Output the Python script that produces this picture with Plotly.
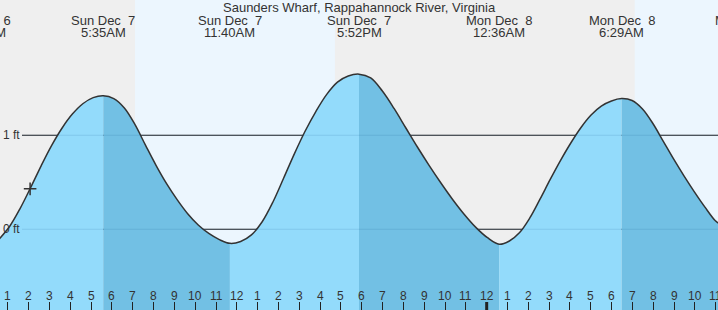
import plotly.graph_objects as go

# ---------------- data (hours from midnight Sun Dec 7, heights in ft) ----------------
tide_hours = [0.60, 1.10, 1.60, 2.10, 2.60, 3.10, 3.60, 4.10, 4.60, 5.10, 5.583,
              6.090, 6.597, 7.104, 7.611, 8.118, 8.625, 9.132, 9.639, 10.146, 10.653, 11.160, 11.667,
              12.183, 12.700, 13.217, 13.733, 14.250, 14.767, 15.283, 15.800, 16.317, 16.833, 17.350, 17.867,
              18.428, 18.989, 19.550, 20.111, 20.672, 21.233, 21.794, 22.355, 22.917, 23.478, 24.039, 24.600,
              25.090, 25.581, 26.071, 26.561, 27.052, 27.542, 28.032, 28.522, 29.013, 29.503, 29.993, 30.483,
              30.983, 31.483, 31.983, 32.483, 32.983, 33.483, 33.983, 34.483, 34.983, 35.200]
tide_ft = [-0.10, 0.035, 0.225, 0.445, 0.675, 0.89, 1.075, 1.225, 1.335, 1.40, 1.42,
           1.39, 1.29, 1.115, 0.895, 0.68, 0.485, 0.315, 0.165, 0.045, -0.045, -0.11, -0.15,
           -0.13, -0.06, 0.08, 0.29, 0.545, 0.805, 1.045, 1.255, 1.435, 1.565, 1.63, 1.65,
           1.61, 1.47, 1.285, 1.08, 0.875, 0.68, 0.495, 0.32, 0.16, 0.02, -0.09, -0.16,
           -0.125, -0.035, 0.12, 0.32, 0.53, 0.73, 0.915, 1.08, 1.215, 1.31, 1.365, 1.39,
           1.37, 1.28, 1.125, 0.935, 0.745, 0.565, 0.395, 0.235, 0.09, 0.055]

# tide extremes: time (hours), day label, time label, type
extreme_hours = [-0.32, 5.583, 11.667, 17.867, 24.60, 30.483, 36.55]
extreme_days = ["Sat Dec\u00a0\u00a06", "Sun Dec\u00a0\u00a07", "Sun Dec\u00a0\u00a07", "Sun Dec\u00a0\u00a07",
                "Mon Dec\u00a0\u00a08", "Mon Dec\u00a0\u00a08", "Mon Dec\u00a0\u00a08"]
extreme_times = ["11:41PM", "5:35AM", "11:40AM", "5:52PM", "12:36AM", "6:29AM", "12:33PM"]
extreme_kind = ["low", "high", "low", "high", "low", "high", "low"]

# daylight periods (hours): sunrise / sunset
day_start = [7.11, 31.11]
day_end = [16.71, 40.0]

# current time marker
now_hour = 2.07
now_ft = 0.43

hour_ticks = list(range(1, 36))
hour_labels = [str(h % 12 if h % 12 else 12) for h in hour_ticks]
midnight_hours = [24]

level_lines = [0, 1]
level_labels = ["0 ft", "1 ft"]

title = "Saunders Wharf, Rappahannock River, Virginia"

# ---------------- layout constants ----------------
W, H = 718, 310
XMIN, XMAX = 0.624, 35.11
YMIN, YMAX = -0.859, 2.439
NIGHT = "#efefef"
DAY = "#ecf6fe"
RISE = "#93dbfb"
FALL = "#72c0e4"
TXT = "#333333"
FONT = "Liberation Sans, Arial, sans-serif"


def px_x(h):
    return (h - XMIN) / (XMAX - XMIN)


def py(ypx):
    return 1 - ypx / H


fig = go.Figure()

# fill segments split at extremes (rising = light, falling = dark)
inner = [e for e in extreme_hours if XMIN < e < XMAX]
bounds = [tide_hours[0]] + inner + [tide_hours[-1]]
for i in range(len(bounds) - 1):
    a, b = bounds[i], bounds[i + 1]
    xs = [h for h in tide_hours if a - 1e-9 <= h <= b + 1e-9]
    ys = [tide_ft[tide_hours.index(h)] for h in xs]
    color = RISE if ys[-1] > ys[0] else FALL
    fig.add_trace(go.Scatter(x=[xs[0], xs[-1]], y=[YMIN - 0.05, YMIN - 0.05], mode="lines",
                             line=dict(width=0), hoverinfo="skip", showlegend=False))
    fig.add_trace(go.Scatter(x=xs, y=ys, mode="lines", line=dict(width=0, shape="spline"),
                             fill="tonexty", fillcolor=color, hoverinfo="skip", showlegend=False))

# curve
fig.add_trace(go.Scatter(x=tide_hours, y=tide_ft, mode="lines",
                         line=dict(color="#333333", width=1.5, shape="spline"),
                         hoverinfo="skip", showlegend=False))

# now marker
fig.add_trace(go.Scatter(x=[now_hour], y=[now_ft], mode="markers",
                         marker=dict(symbol="cross-thin", size=9, line=dict(color="#333333", width=1.5)),
                         hoverinfo="skip", showlegend=False))

shapes = []
for s, e in zip(day_start, day_end):
    shapes.append(dict(type="rect", xref="x", yref="paper", x0=s, x1=e, y0=0, y1=1,
                       fillcolor=DAY, line=dict(width=0), layer="below"))
for lv in level_lines:
    shapes.append(dict(type="line", xref="paper", yref="y", x0=22 / W, x1=1, y0=lv, y1=lv,
                       line=dict(color="#222222", width=1.2), layer="below"))
    shapes.append(dict(type="line", xref="paper", yref="y", x0=22 / W, x1=1, y0=lv, y1=lv,
                       line=dict(color="rgba(0,70,130,0.13)", width=1.2), layer="above"))
for m in midnight_hours:
    shapes.append(dict(type="line", xref="x", yref="paper", x0=m, x1=m, y0=0, y1=8 / H,
                       line=dict(color="#222222", width=3), layer="above"))

ann = []
ann.append(dict(text=title, x=0.5, y=py(7.5), xref="paper", yref="paper", showarrow=False,
                xanchor="center", yanchor="middle", font=dict(size=13, color=TXT, family=FONT)))
for eh, d, t in zip(extreme_hours, extreme_days, extreme_times):
    ann.append(dict(text=d, x=px_x(eh), y=py(20.3), xref="paper", yref="paper", showarrow=False,
                    xanchor="center", yanchor="middle", font=dict(size=13, color=TXT, family=FONT)))
    ann.append(dict(text=t, x=px_x(eh), y=py(32), xref="paper", yref="paper", showarrow=False,
                    xanchor="center", yanchor="middle", font=dict(size=13, color=TXT, family=FONT)))
for hv, lab in zip(hour_ticks, hour_labels):
    ann.append(dict(text=lab, x=px_x(hv), y=py(296), xref="paper", yref="paper", showarrow=False,
                    xanchor="center", yanchor="middle", font=dict(size=12, color=TXT, family=FONT)))
for lv, lab in zip(level_lines, level_labels):
    ann.append(dict(text=lab, x=22 / W, y=lv, xref="paper", yref="y", showarrow=False,
                    xanchor="right", yanchor="middle", font=dict(size=12, color=TXT, family=FONT)))

fig.update_layout(
    width=W, height=H, margin=dict(l=0, r=0, t=0, b=0),
    paper_bgcolor=NIGHT, plot_bgcolor=NIGHT,
    shapes=shapes, annotations=ann, showlegend=False,
    xaxis=dict(range=[XMIN, XMAX], showgrid=False, zeroline=False, showline=False,
               ticks="inside", ticklen=8, tickwidth=1, tickcolor="#222222",
               tickvals=hour_ticks, showticklabels=False, fixedrange=True),
    yaxis=dict(range=[YMIN, YMAX], showgrid=False, zeroline=False, showline=False,
               showticklabels=False, ticks="", fixedrange=True),
)

fig.write_html("out.html", config={"displayModeBar": False})
